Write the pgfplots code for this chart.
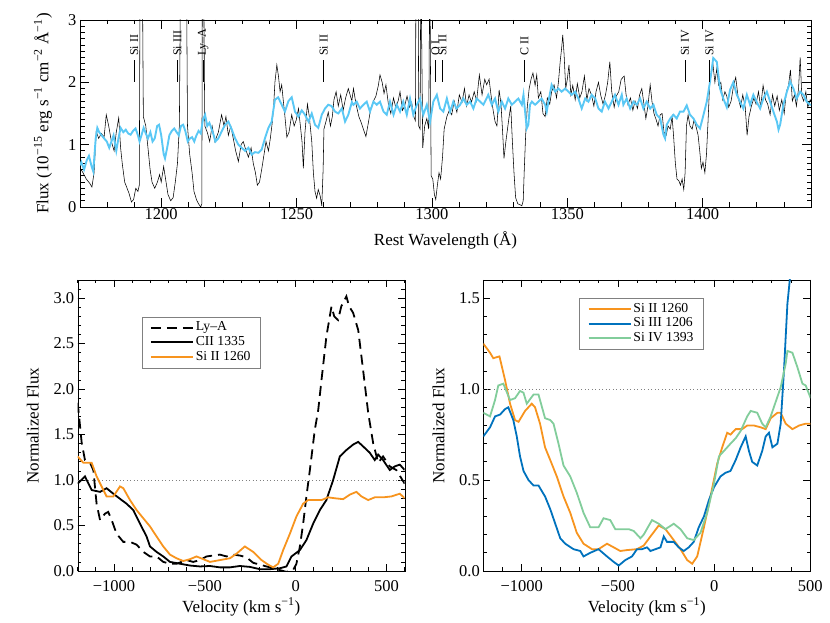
\documentclass[border=0pt]{standalone}
\usepackage{fontspec}
\setmainfont{Liberation Serif}
\usepackage{pgfplots}
\pgfplotsset{compat=1.18}

\definecolor{skyline}{RGB}{90,200,245}
\definecolor{siorange}{RGB}{247,148,30}
\definecolor{siblue}{RGB}{0,114,189}
\definecolor{sigreen}{RGB}{130,205,155}

\newcommand\tickfont{\fontsize{16.5}{16.5}\selectfont}
\newcommand\labfont{\fontsize{17}{17}\selectfont}
\newcommand\legfont{\fontsize{13.7}{13.7}\selectfont}
\newcommand\linefont{\fontsize{12}{12}\selectfont}

\pgfplotsset{
  every tick/.append style={black, line width=0.8pt},
  tick label style={font=\tickfont},
  vel/.style={
    scale only axis,
    width=327pt, height=291pt, xmin=-1200,
    major tick length=7pt, minor tick length=3.5pt,
    xtick={-1000,-500,0,500}, xticklabels={−1000,−500,0,500},
    minor xtick={-1200,-1100,...,600},
    xticklabel style={yshift=-6pt},
    xlabel={Velocity (km s\textsuperscript{−1})},
    ylabel={Normalized Flux},
    xlabel style={font=\labfont, at={(axis description cs:0.5,0)}, anchor=center, yshift=-36pt},
    ylabel style={font=\labfont, at={(axis description cs:-0.137,0.5)}, anchor=center},
    legend cell align=left,
    legend image code/.code={\draw[##1, line width=1.8pt] (0pt,0pt) -- (42pt,0pt);},
  },
}

\begin{document}
\begin{tikzpicture}

% ---------------- top: spectrum ----------------
\begin{axis}[scale only axis,
  at={(80pt,416pt)}, width=731pt, height=187pt,
  xmin=1170, xmax=1440, ymin=0, ymax=3,
  major tick length=9pt, minor tick length=4.5pt,
  xtick={1200,1250,...,1400}, xticklabels={1200,1250,1300,1350,1400},
  minor xtick={1170,1180,...,1440},
  ytick={0,1,2,3}, yticklabels={0,1,2,3},
  minor ytick={0,0.1,...,3.0},
  xticklabel style={inner sep=1pt},
  xlabel={Rest Wavelength (Å)},
  ylabel={Flux (10\textsuperscript{−15} erg s\textsuperscript{−1} cm\textsuperscript{−2} Å\textsuperscript{−1})},
  xlabel style={font=\labfont, at={(axis description cs:0.5,0)}, anchor=center, yshift=-33pt},
  ylabel style={font=\labfont, at={(axis description cs:-0.0506,0.5)}, anchor=center},
]
\addplot[black, line width=0.55pt] coordinates {
(1170.0,0.63) (1171.1,0.55) (1172.3,0.45) (1173.6,0.38) (1174.4,0.32) (1175.2,0.55)
(1176.0,1.21) (1176.9,1.10) (1177.9,1.18) (1178.9,1.12) (1179.7,1.48) (1180.6,1.30)
(1181.6,1.05) (1182.6,0.90) (1183.4,1.20) (1184.3,1.43) (1185.0,0.95) (1185.6,0.70)
(1186.5,0.40) (1187.4,0.30) (1188.1,0.22) (1189.0,0.08) (1189.8,0.12) (1190.6,0.30)
(1191.4,0.25) (1191.9,0.35) (1192.2,4.0) (1193.0,4.0) (1193.4,1.45) (1194.3,1.30)
(1195.1,0.95) (1195.9,0.60) (1196.6,0.40) (1197.6,0.30) (1198.6,0.40) (1199.4,0.52)
(1200.0,0.40) (1200.9,0.65) (1201.6,0.45) (1202.5,0.20) (1203.5,0.10) (1204.4,0.15)
(1205.2,0.40) (1206.0,0.70) (1206.7,1.30) (1207.2,4.0) (1209.3,4.0) (1209.7,1.30)
(1210.5,0.85) (1211.4,0.55) (1212.1,0.25) (1213.0,0.12) (1213.8,0.05) (1214.6,0.0)
(1215.0,0.05) (1215.2,4.0) (1215.6,4.0) (1216.1,1.30) (1217.0,1.20) (1217.9,1.05)
(1218.8,1.30) (1219.8,1.05) (1221.1,1.20) (1222.3,1.48) (1223.2,1.30) (1223.9,1.45)
(1224.8,1.15) (1225.7,1.30) (1226.6,1.10) (1227.5,0.90) (1228.5,0.73) (1229.5,1.00)
(1230.3,1.05) (1231.2,0.92) (1232.2,0.80) (1233.2,0.95) (1234.0,0.70) (1234.8,0.55)
(1235.5,0.35) (1236.3,0.40) (1237.1,0.60) (1238.0,0.85) (1238.7,1.05) (1239.6,0.90)
(1240.3,1.10) (1241.0,1.35) (1241.5,1.60) (1242.0,2.00) (1242.7,2.28) (1243.3,2.10)
(1243.9,1.85) (1244.5,1.96) (1245.1,1.70) (1245.7,1.45) (1246.4,1.12) (1247.2,1.20)
(1248.2,1.48) (1249.1,1.30) (1249.9,1.40) (1250.7,1.58) (1251.4,1.30) (1252.0,1.05)
(1252.5,0.62) (1253.1,1.20) (1254.0,1.65) (1254.7,1.45) (1255.6,1.05) (1256.2,0.55)
(1256.8,0.25) (1257.4,0.14) (1258.0,0.28) (1258.7,0.18) (1259.3,0.02) (1259.8,0.60)
(1260.1,1.25) (1260.9,1.38) (1261.7,1.52) (1262.5,1.30) (1263.2,1.45) (1263.8,1.72)
(1264.6,1.85) (1265.4,1.62) (1266.3,1.80) (1267.2,1.55) (1268.1,1.75) (1269.1,1.90)
(1270.4,1.70) (1271.0,1.90) (1272.0,1.64) (1273.0,1.45) (1273.9,1.35) (1274.9,1.22)
(1275.6,1.13) (1276.5,1.35) (1277.4,1.58) (1278.4,1.70) (1279.3,1.78) (1280.2,1.95)
(1280.8,2.12) (1281.6,2.00) (1282.3,1.82) (1283.0,1.96) (1283.9,1.65) (1284.8,1.50)
(1285.8,1.75) (1286.6,1.60) (1287.5,1.70) (1288.2,1.85) (1289.1,1.55) (1289.9,1.62)
(1290.8,1.78) (1291.7,1.60) (1292.5,1.68) (1293.3,1.45) (1293.9,1.38) (1294.1,4.0)
(1294.9,4.0) (1295.1,1.30) (1295.6,1.25) (1295.9,4.0) (1296.6,0.95) (1297.3,1.30)
(1298.1,1.42) (1298.8,1.25) (1299.2,4.0) (1299.7,0.50) (1300.3,0.45) (1300.9,0.20)
(1301.4,0.12) (1302.0,0.35) (1302.6,0.55) (1303.2,0.45) (1303.9,0.80) (1304.5,1.25)
(1305.5,1.45) (1306.4,1.55) (1307.3,1.48) (1308.2,1.70) (1309.2,1.52) (1310.1,1.80)
(1311.1,1.68) (1312.0,1.90) (1312.8,1.62) (1313.7,1.80) (1314.6,1.68) (1315.6,1.85)
(1316.5,1.70) (1317.5,2.12) (1318.5,1.80) (1319.5,2.05) (1320.2,1.96) (1321.1,2.05)
(1321.8,1.80) (1322.6,1.55) (1323.3,1.37) (1324.0,1.30) (1324.8,1.88) (1325.5,1.65)
(1326.1,1.20) (1326.6,0.78) (1327.3,1.05) (1327.9,1.25) (1328.5,1.45) (1329.1,1.62)
(1329.7,1.05) (1330.3,0.55) (1330.9,0.15) (1331.7,0.05) (1332.4,0.04) (1333.2,0.02)
(1333.7,0.10) (1334.1,0.60) (1334.6,1.15) (1335.2,1.60) (1335.9,1.90) (1336.6,2.05)
(1337.3,2.15) (1338.1,1.95) (1338.7,2.12) (1339.3,1.75) (1340.2,1.85) (1341.0,1.50)
(1341.8,1.45) (1342.6,1.75) (1343.5,1.65) (1344.2,1.85) (1345.1,1.96) (1346.0,1.75)
(1346.7,2.00) (1347.4,2.35) (1347.9,2.55) (1348.3,2.76) (1348.8,2.45) (1349.4,1.90)
(1350.0,2.05) (1350.6,2.28) (1351.3,1.80) (1352.0,1.95) (1352.9,1.72) (1353.7,1.98)
(1354.6,1.75) (1355.4,1.85) (1356.3,2.10) (1357.2,1.72) (1358.0,1.90) (1358.9,1.80)
(1359.8,1.62) (1360.6,1.85) (1361.5,2.00) (1362.3,1.80) (1363.2,1.65) (1364.1,1.80)
(1364.9,2.00) (1365.7,2.33) (1366.4,1.85) (1367.3,1.60) (1368.1,1.78) (1369.0,1.85)
(1369.9,2.05) (1371.0,2.10) (1371.7,1.80) (1372.4,1.64) (1373.3,1.75) (1374.2,1.55)
(1375.0,1.70) (1375.9,1.58) (1376.7,1.80) (1377.5,1.90) (1378.2,1.68) (1379.0,1.42)
(1379.7,1.60) (1380.6,1.96) (1381.3,1.68) (1382.0,1.50) (1382.8,1.40) (1383.5,1.30)
(1384.3,1.48) (1385.0,1.50) (1385.7,1.20) (1386.5,1.15) (1387.2,1.30) (1388.0,1.25)
(1388.7,1.45) (1389.3,1.10) (1389.9,0.70) (1390.5,0.45) (1391.2,0.42) (1391.8,0.35)
(1392.4,0.45) (1393.0,0.28) (1393.5,0.55) (1394.0,1.30) (1394.6,1.48) (1395.3,1.30)
(1396.1,1.25) (1396.8,1.40) (1397.6,1.28) (1398.3,1.15) (1398.9,0.90) (1399.5,0.62)
(1400.1,0.72) (1400.8,0.55) (1401.4,0.85) (1402.0,1.40) (1402.6,2.00) (1403.2,2.15)
(1403.8,2.28) (1404.5,2.00) (1405.2,2.22) (1405.9,1.95) (1406.7,2.00) (1407.4,1.72)
(1408.2,1.85) (1408.9,1.78) (1409.6,1.60) (1410.5,1.70) (1411.4,1.95) (1412.2,2.08)
(1413.1,1.75) (1414.0,1.60) (1414.8,1.80) (1415.7,1.60) (1416.4,1.15) (1417.1,1.45)
(1418.0,1.62) (1418.9,1.75) (1419.7,1.65) (1420.6,1.85) (1421.4,1.60) (1422.3,1.95)
(1423.2,1.72) (1424.0,1.65) (1424.9,1.48) (1425.8,1.80) (1426.6,1.62) (1427.5,1.78)
(1428.3,1.55) (1429.2,1.72) (1430.1,1.50) (1430.9,1.85) (1431.7,1.95) (1432.4,2.20)
(1433.1,1.70) (1433.9,1.80) (1434.6,1.62) (1435.4,1.90) (1436.0,2.40) (1436.6,1.78)
(1437.3,1.70) (1438.1,1.85) (1438.8,1.60) (1439.7,1.72) (1440.0,1.70)
};
\addplot[skyline, line width=1.9pt] coordinates {
(1170.0,0.67) (1170.5,0.72) (1171.5,0.60) (1172.5,0.75) (1173.3,0.82) (1174.3,0.65)
(1174.9,0.57) (1175.8,1.10) (1176.4,1.27) (1177.1,1.20) (1178.0,1.15) (1178.9,1.10)
(1179.9,1.05) (1180.8,0.95) (1181.6,1.05) (1182.4,1.15) (1183.4,0.90) (1184.2,1.10)
(1185.0,1.27) (1186.0,1.20) (1186.9,1.24) (1187.8,1.18) (1188.7,1.16) (1189.6,1.22)
(1190.5,1.26) (1191.4,1.15) (1192.0,1.05) (1192.7,1.15) (1193.5,1.27) (1194.3,1.18)
(1195.1,1.10) (1196.0,1.20) (1196.8,1.05) (1197.6,1.10) (1198.5,1.30) (1199.2,1.32)
(1200.0,1.15) (1200.9,0.85) (1201.4,0.78) (1202.2,0.95) (1203.0,1.15) (1203.9,1.22)
(1204.8,1.26) (1205.7,1.20) (1206.5,1.15) (1207.3,1.30) (1208.1,1.32) (1208.9,1.22)
(1209.8,1.05) (1210.6,1.10) (1211.4,1.12) (1212.2,1.05) (1213.0,1.15) (1213.8,1.22)
(1214.6,1.18) (1215.4,1.40) (1216.2,1.48) (1217.0,1.30) (1217.8,1.35) (1218.6,1.25)
(1219.4,1.15) (1220.0,1.05) (1221.1,1.10) (1222.3,1.21) (1223.6,1.32) (1224.8,1.37)
(1226.0,1.25) (1227.3,1.10) (1228.5,1.00) (1229.7,0.95) (1231.0,0.90) (1232.2,0.95)
(1233.4,0.84) (1234.6,0.88) (1235.9,0.87) (1237.1,0.92) (1238.3,1.10) (1239.6,1.27)
(1240.8,1.37) (1241.4,1.55) (1242.0,1.72) (1243.2,1.76) (1244.5,1.64) (1245.7,1.53)
(1247.0,1.70) (1248.2,1.76) (1249.4,1.53) (1250.7,1.45) (1251.9,1.55) (1253.1,1.48)
(1254.4,1.37) (1255.6,1.50) (1256.8,1.32) (1258.0,1.27) (1259.3,1.48) (1260.5,1.58)
(1261.7,1.64) (1262.9,1.62) (1264.2,1.53) (1265.4,1.50) (1266.7,1.58) (1267.9,1.37)
(1269.1,1.48) (1270.4,1.68) (1271.0,1.64) (1272.2,1.69) (1273.4,1.58) (1274.7,1.64)
(1275.9,1.69) (1277.1,1.53) (1278.4,1.69) (1279.6,1.64) (1280.8,1.69) (1282.1,1.53)
(1283.3,1.48) (1284.5,1.69) (1285.8,1.48) (1287.0,1.64) (1288.2,1.53) (1289.4,1.69)
(1290.7,1.48) (1291.9,1.74) (1293.1,1.48) (1294.4,1.64) (1295.6,1.74) (1296.8,1.48)
(1298.1,1.64) (1299.3,1.37) (1300.5,1.69) (1301.8,1.80) (1303.0,1.58) (1304.2,1.53)
(1305.5,1.74) (1306.7,1.53) (1307.9,1.69) (1309.1,1.58) (1310.4,1.64) (1311.6,1.74)
(1312.8,1.64) (1314.1,1.69) (1315.3,1.58) (1316.5,1.74) (1317.8,1.69) (1319.0,1.64)
(1320.8,1.80) (1322.1,1.64) (1323.3,1.74) (1324.5,1.53) (1325.8,1.69) (1327.0,1.58)
(1328.2,1.74) (1329.5,1.64) (1330.7,1.69) (1331.9,1.74) (1333.2,1.64) (1333.8,1.80)
(1334.4,1.53) (1335.0,1.26) (1335.6,1.32) (1336.2,1.64) (1336.9,1.69) (1338.1,1.64)
(1339.3,1.69) (1340.5,1.74) (1341.8,1.64) (1342.4,1.53) (1343.0,1.69) (1344.2,1.96)
(1345.5,1.85) (1346.7,1.90) (1347.9,1.85) (1349.2,1.90) (1350.4,1.85) (1351.6,1.80)
(1352.9,1.85) (1354.1,1.74) (1355.3,1.58) (1356.6,1.74) (1357.8,1.69) (1359.0,1.80)
(1360.3,1.74) (1361.5,1.58) (1362.7,1.53) (1363.9,1.69) (1365.2,1.58) (1366.4,1.69)
(1367.6,1.80) (1368.9,1.64) (1370.1,1.80) (1370.7,1.64) (1371.9,1.74) (1373.2,1.58)
(1374.4,1.69) (1375.6,1.64) (1376.9,1.74) (1378.1,1.58) (1379.3,1.69) (1380.6,1.58)
(1381.8,1.64) (1383.0,1.48) (1384.3,1.42) (1385.5,1.16) (1386.1,1.10) (1386.7,1.32)
(1388.0,1.42) (1389.2,1.48) (1390.4,1.42) (1391.6,1.53) (1392.9,1.53) (1394.1,1.63)
(1395.3,1.48) (1396.6,1.42) (1397.8,1.32) (1399.0,1.26) (1400.3,1.48) (1401.5,1.69)
(1402.7,2.01) (1403.9,2.39) (1405.2,2.33) (1406.4,1.90) (1407.6,1.74) (1408.9,1.60)
(1410.1,1.88) (1411.3,2.00) (1412.6,1.80) (1413.8,1.69) (1415.0,1.58) (1416.3,1.80)
(1417.5,1.64) (1418.7,1.80) (1419.9,1.69) (1421.2,1.58) (1422.4,1.74) (1423.7,1.85)
(1424.9,1.69) (1426.1,1.53) (1427.4,1.37) (1428.0,1.24) (1428.6,1.32) (1429.8,1.64)
(1431.1,1.85) (1432.3,2.01) (1433.5,1.90) (1434.7,1.74) (1436.0,1.85) (1437.2,1.80)
(1438.4,1.69) (1439.7,1.64) (1440.0,1.64)
};
% line identifications
\foreach \lam/\name in {1190/Si II, 1206/Si III, 1215.5/Ly--A, 1260/Si II,
    1301.3/O I, 1303.9/Si II, 1334.2/C II, 1393.5/Si IV, 1402.5/Si IV} {
  \edef\temp{\noexpand\draw[black, line width=0.6pt] (axis cs:\lam,2.01) -- (axis cs:\lam,2.36);
    \noexpand\node[rotate=90, anchor=west, inner sep=0pt, font=\noexpand\linefont] at (axis cs:\lam,2.42) {\name};}
  \temp
}
\end{axis}

% ---------------- bottom left ----------------
\begin{axis}[vel, at={(77.7pt,52pt)}, xmax=600, ymin=0, ymax=3.2,
  ytick={0,0.5,...,3.0}, yticklabels={0.0,0.5,1.0,1.5,2.0,2.5,3.0},
  minor ytick={0,0.1,...,3.2},
  legend style={at={(axis description cs:0.196,0.874)}, anchor=north west,
    draw=gray, font=\legfont, inner xsep=8pt, inner ysep=3pt,
    nodes={inner sep=2pt, text height=9pt, text depth=2.5pt}, row sep=-0.8pt},
]
\addplot[gray, line width=0.6pt, dash pattern=on 1pt off 2.5pt, forget plot] coordinates {(-1200,1) (600,1)};
\addplot[black, line width=1.8pt, dash pattern=on 10pt off 6pt] coordinates {
(-1200,1.85) (-1178,1.41) (-1160,1.22) (-1132,1.19) (-1114,1.11) (-1096,0.74) (-1077,0.56)
(-1050,0.63) (-1032,0.65) (-1013,0.56) (-986,0.41) (-949,0.32) (-912,0.32) (-876,0.29)
(-839,0.21) (-802,0.16) (-766,0.16) (-729,0.10) (-692,0.08) (-656,0.08) (-601,0.12)
(-564,0.10) (-527,0.12) (-491,0.16) (-454,0.17) (-417,0.18) (-381,0.16) (-344,0.18)
(-307,0.17) (-271,0.15) (-234,0.09) (-197,0.07) (-161,0.05) (-124,0.03) (-87,0.01)
(-51,-0.01) (-14,0.01) (4,0.08) (23,0.27) (41,0.52) (59,0.82) (78,1.11) (105,1.55)
(124,1.77) (142,2.10) (169,2.58) (197,2.91) (212,2.80) (233,2.76) (251,2.91) (279,3.02)
(294,2.91) (316,2.84) (344,2.65) (371,2.21) (399,1.74) (426,1.41) (454,1.19) (481,1.26)
(518,1.15) (554,1.11) (600,0.96)
};
\addlegendentry{Ly--A}
\addplot[black, line width=1.8pt] coordinates {
(-1200,0.96) (-1160,1.04) (-1123,0.89) (-1077,0.87) (-1041,0.91) (-1004,0.85) (-958,0.78)
(-931,0.74) (-894,0.67) (-857,0.52) (-821,0.38) (-802,0.27) (-766,0.21) (-729,0.16)
(-692,0.10) (-637,0.08) (-582,0.06) (-527,0.05) (-472,0.055) (-417,0.04) (-362,0.04)
(-307,0.055) (-252,0.045) (-197,0.02) (-142,0.02) (-87,0.03) (-51,0.05) (-23,0.16)
(23,0.23) (59,0.34) (96,0.52) (133,0.67) (169,0.78) (206,1.0) (243,1.26) (279,1.33)
(316,1.39) (344,1.42) (371,1.37) (408,1.30) (435,1.22) (454,1.28) (481,1.22) (518,1.11)
(545,1.15) (573,1.17) (600,1.11)
};
\addlegendentry{CII 1335}
\addplot[siorange, line width=1.8pt] coordinates {
(-1200,1.26) (-1169,1.19) (-1123,1.19) (-1096,1.04) (-1041,0.82) (-1004,0.82) (-967,0.93)
(-949,0.91) (-912,0.78) (-876,0.67) (-839,0.58) (-802,0.49) (-766,0.38) (-729,0.27)
(-692,0.18) (-656,0.14) (-619,0.11) (-582,0.13) (-546,0.16) (-509,0.13) (-472,0.10)
(-417,0.12) (-362,0.14) (-326,0.19) (-280,0.27) (-234,0.21) (-188,0.12) (-152,0.07)
(-124,0.04) (-96,0.08) (-69,0.23) (-32,0.41) (4,0.60) (41,0.74) (68,0.78) (105,0.78)
(142,0.78) (178,0.81) (215,0.80) (261,0.79) (298,0.84) (334,0.87) (362,0.82) (399,0.78)
(435,0.81) (481,0.81) (527,0.82) (573,0.85) (600,0.80)
};
\addlegendentry{Si II 1260}
\end{axis}

% ---------------- bottom right ----------------
\begin{axis}[vel, at={(483.3pt,52pt)}, xmax=500, ymin=0, ymax=1.6,
  ytick={0,0.5,1.0,1.5}, yticklabels={0.0,0.5,1.0,1.5},
  minor ytick={0,0.1,...,1.6},
  legend style={at={(axis description cs:0.294,0.938)}, anchor=north west,
    draw=gray, font=\legfont, inner xsep=8pt, inner ysep=3pt,
    nodes={inner sep=2pt, text height=9pt, text depth=2.5pt}, row sep=-0.8pt},
]
\addplot[gray, line width=0.6pt, dash pattern=on 1pt off 2.5pt, forget plot] coordinates {(-1200,1) (500,1)};
\addplot[siorange, line width=1.8pt] coordinates {
(-1200,1.25) (-1165,1.20) (-1148,1.17) (-1116,1.18) (-1087,1.05) (-1061,0.92) (-1035,0.83)
(-1017,0.82) (-983,0.88) (-948,0.92) (-931,0.90) (-905,0.81) (-879,0.68) (-852,0.61)
(-818,0.52) (-783,0.41) (-748,0.32) (-714,0.21) (-679,0.15) (-635,0.12) (-601,0.12)
(-557,0.15) (-522,0.13) (-488,0.11) (-453,0.115) (-401,0.12) (-366,0.14) (-331,0.19)
(-288,0.25) (-253,0.23) (-210,0.17) (-175,0.12) (-140,0.06) (-114,0.04) (-88,0.08)
(-53,0.24) (-19,0.41) (16,0.59) (42,0.68) (68,0.76) (85,0.75) (112,0.78) (146,0.78)
(172,0.80) (207,0.80) (242,0.79) (268,0.78) (294,0.84) (329,0.87) (346,0.87) (372,0.81)
(407,0.78) (442,0.80) (476,0.81) (502,0.81)
};
\addlegendentry{Si II 1260}
\addplot[siblue, line width=1.8pt] coordinates {
(-1200,0.74) (-1165,0.79) (-1139,0.85) (-1113,0.86) (-1087,0.89) (-1070,0.90) (-1044,0.83)
(-1026,0.74) (-1009,0.63) (-991,0.55) (-965,0.50) (-939,0.47) (-913,0.47) (-879,0.41)
(-852,0.34) (-826,0.26) (-800,0.18) (-774,0.15) (-731,0.12) (-696,0.11) (-679,0.08)
(-644,0.10) (-601,0.12) (-557,0.08) (-522,0.05) (-496,0.03) (-462,0.06) (-427,0.08)
(-401,0.12) (-375,0.12) (-349,0.13) (-331,0.11) (-305,0.12) (-279,0.13) (-262,0.19)
(-245,0.16) (-210,0.16) (-184,0.13) (-158,0.11) (-132,0.13) (-106,0.16) (-80,0.24)
(-53,0.30) (-27,0.39) (-1,0.46) (33,0.52) (59,0.54) (85,0.55) (112,0.61) (138,0.68)
(164,0.74) (181,0.66) (198,0.60) (224,0.58) (250,0.66) (268,0.74) (285,0.76) (303,0.68)
(329,0.70) (346,0.81) (363,1.10) (381,1.47) (398,1.65) (410,1.75)
};
\addlegendentry{Si III 1206}
\addplot[sigreen, line width=1.8pt] coordinates {
(-1200,0.87) (-1165,0.85) (-1139,0.94) (-1122,1.02) (-1096,1.03) (-1061,0.94) (-1035,0.95)
(-1009,0.99) (-991,0.98) (-974,0.92) (-939,0.97) (-913,0.97) (-879,0.84) (-852,0.83)
(-835,0.81) (-809,0.70) (-783,0.58) (-748,0.52) (-714,0.43) (-679,0.32) (-644,0.24)
(-601,0.24) (-575,0.29) (-540,0.28) (-514,0.23) (-470,0.23) (-444,0.23) (-418,0.22)
(-383,0.18) (-366,0.20) (-323,0.28) (-288,0.26) (-253,0.23) (-210,0.26) (-175,0.23)
(-140,0.18) (-106,0.17) (-71,0.21) (-36,0.32) (-1,0.48) (25,0.63) (51,0.66) (85,0.70)
(112,0.73) (138,0.77) (172,0.85) (190,0.88) (224,0.87) (250,0.81) (268,0.79) (294,0.85)
(320,0.93) (346,1.01) (372,1.14) (381,1.21) (407,1.20) (433,1.12) (459,1.03) (476,1.02)
(502,0.95)
};
\addlegendentry{Si IV 1393}
\end{axis}
% page frame: fixes the picture to the reference's 830 x 623 extent
\path (0pt,0pt) rectangle (830pt,623pt);
\end{tikzpicture}
\end{document}
